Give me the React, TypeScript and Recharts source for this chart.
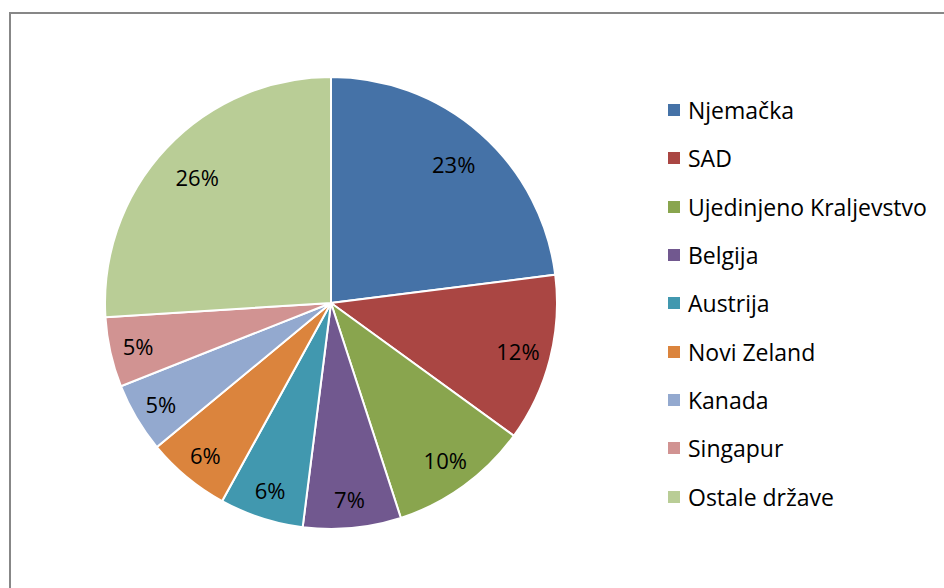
import React from "react";
import { PieChart, Pie, Cell, Legend } from "recharts";

const categories = [
  "Njemačka",
  "SAD",
  "Ujedinjeno Kraljevstvo",
  "Belgija",
  "Austrija",
  "Novi Zeland",
  "Kanada",
  "Singapur",
  "Ostale države",
];
const shares = [23, 12, 10, 7, 6, 6, 5, 5, 26];
const colors = [
  "#4572A7",
  "#AA4643",
  "#89A54E",
  "#71588F",
  "#4198AF",
  "#DB843D",
  "#93A9CF",
  "#D19392",
  "#B9CD96",
];

const data = categories.map((name, i) => ({ name, value: shares[i] }));
const FONT = "'Open Sans', Lato, sans-serif";
const RAD = Math.PI / 180;

const renderLabel = (props: any) => {
  const { cx, cy, midAngle, outerRadius, value, percent } = props;
  const r = outerRadius * (0.89 - 0.3 * percent);
  const x = cx + r * Math.cos(-midAngle * RAD);
  const y = cy + r * Math.sin(-midAngle * RAD);
  return (
    <text
      x={x}
      y={y}
      textAnchor="middle"
      dominantBaseline="central"
      fill="#000"
      fontSize={22}
      fontFamily={FONT}
    >
      {`${value}%`}
    </text>
  );
};

const renderLegend = () => (
  <div style={{ fontFamily: FONT, fontSize: 23, color: "#000" }}>
    {categories.map((c, i) => (
      <div
        key={c}
        style={{ display: "flex", alignItems: "center", height: 48.3, whiteSpace: "nowrap" }}
      >
        <span
          style={{
            display: "inline-block",
            width: 12,
            height: 12,
            background: colors[i],
            marginRight: 8,
            flexShrink: 0,
          }}
        />
        <span>{c}</span>
      </div>
    ))}
  </div>
);

export default function App() {
  return (
    <div
      style={{
        position: "absolute",
        left: 0,
        top: 0,
        width: 944,
        height: 588,
        overflow: "hidden",
        background: "#fff",
      }}
    >
      <div
        style={{
          position: "absolute",
          left: 9,
          top: 12,
          width: 1000,
          height: 1000,
          borderLeft: "2px solid #878787",
          borderTop: "2px solid #878787",
          boxSizing: "border-box",
        }}
      />
      <div style={{ position: "absolute", left: 0, top: 0 }}>
        <PieChart
          width={944}
          height={588}
          margin={{ top: 0, right: 0, bottom: 0, left: 0 }}
        >
          <Pie
            data={data}
            dataKey="value"
            nameKey="name"
            cx={331}
            cy={303}
            outerRadius={226}
            startAngle={90}
            endAngle={-270}
            stroke="#fff"
            strokeWidth={2}
            label={renderLabel}
            labelLine={false}
            isAnimationActive={false}
          >
            {data.map((d, i) => (
              <Cell key={d.name} fill={colors[i]} />
            ))}
          </Pie>
          <Legend
            content={renderLegend}
            wrapperStyle={{ position: "absolute", left: 668, top: 86, width: 276 }}
          />
        </PieChart>
      </div>
    </div>
  );
}
